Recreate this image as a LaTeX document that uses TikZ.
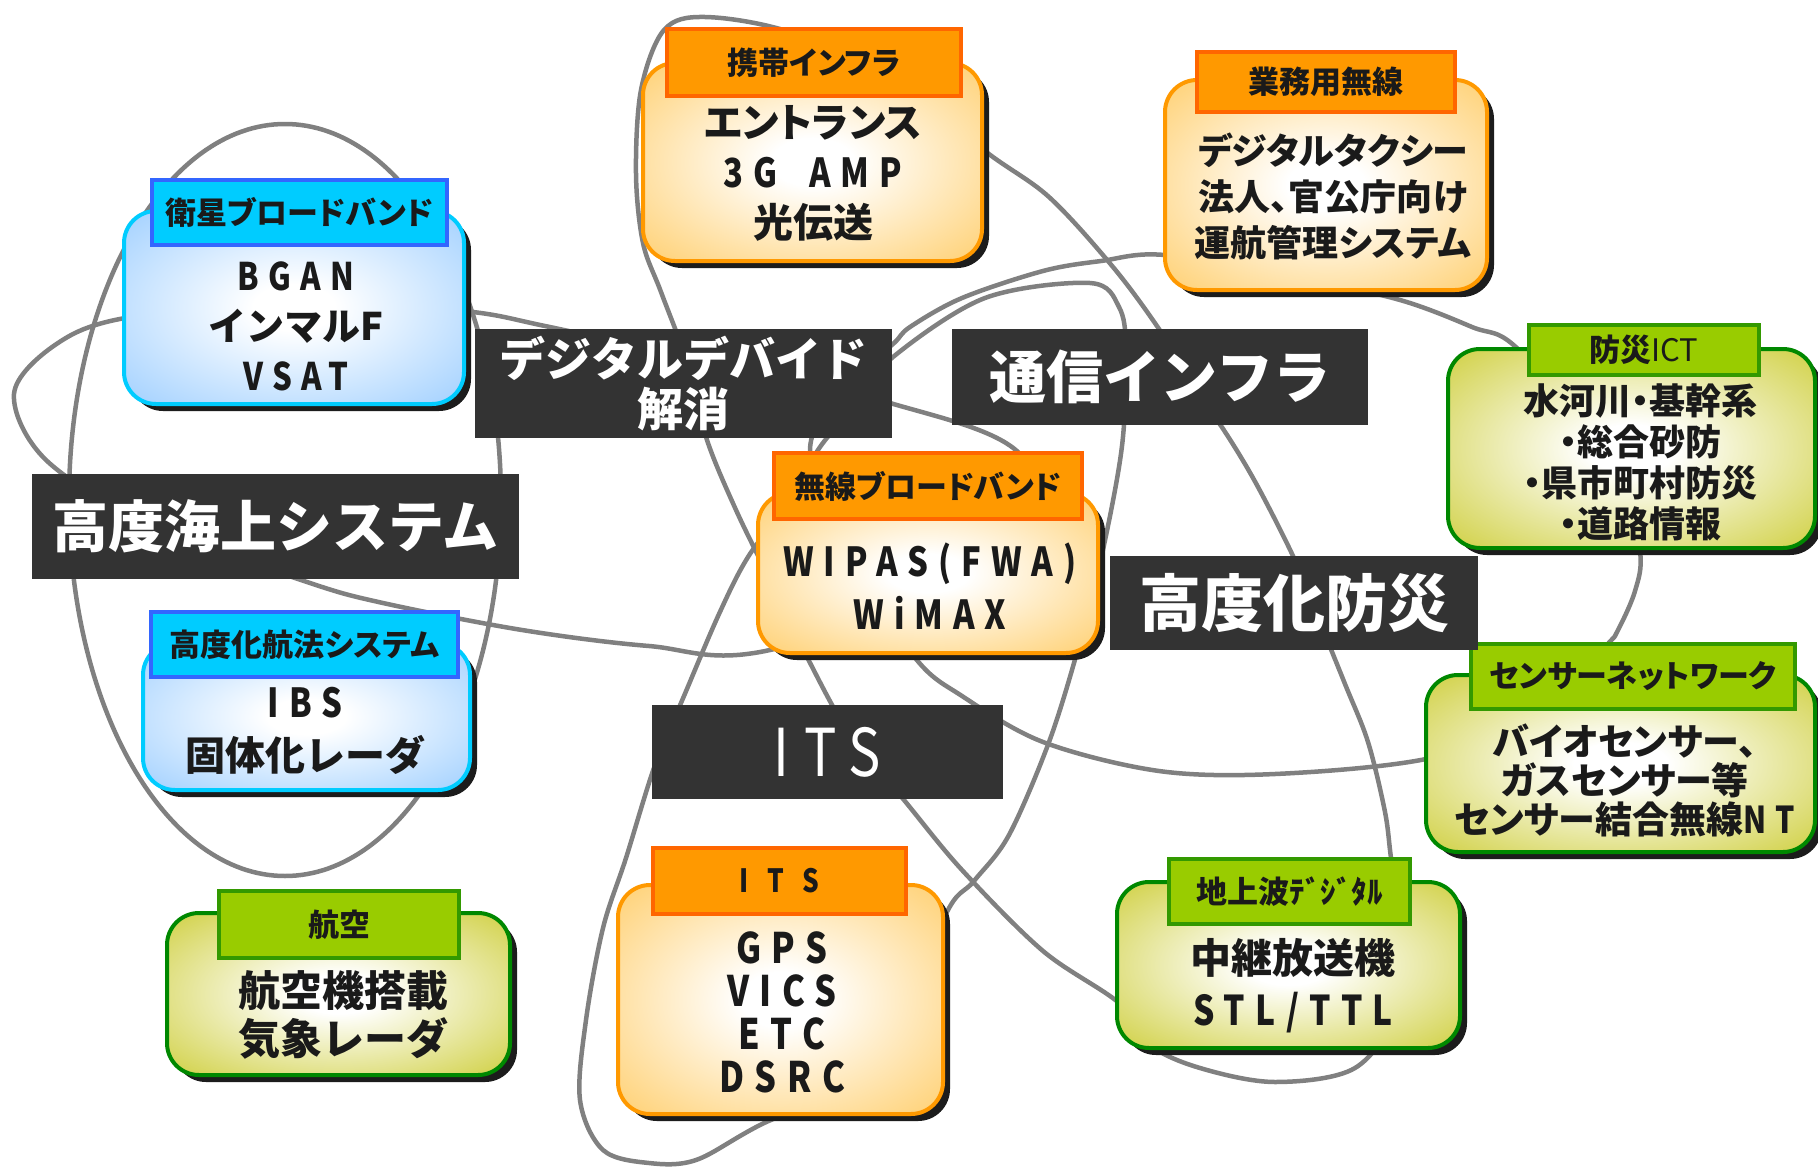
\documentclass[tikz,border=0pt]{standalone}
\usepackage{fontspec}
\usetikzlibrary{shadows}
\newfontfamily\jpfont[RawFeature={+palt}]{Noto Sans CJK JP}
\newfontfamily\jpnp{Noto Sans CJK JP}
\newfontfamily\jplat[FakeStretch=0.82,LetterSpace=25]{Noto Sans CJK JP}
\newfontfamily\jpwide[FakeStretch=0.82,LetterSpace=60]{Noto Sans CJK JP}
\newfontfamily\labfont{Noto Sans CJK JP}
\newfontfamily\labnarrow[FakeStretch=0.82,LetterSpace=22]{Noto Sans CJK JP}
\newcommand{\myfs}[2]{\fontsize{#1}{#2}\selectfont}
\definecolor{linegray}{HTML}{808080}
\definecolor{darklab}{HTML}{333333}
\definecolor{txt}{HTML}{1A1A1A}
\definecolor{shadowc}{HTML}{1C1C1C}
\definecolor{blueout}{HTML}{99CCFF}
\definecolor{bluebd}{HTML}{00CCFF}
\definecolor{bluehd}{HTML}{00CCFF}
\definecolor{bluehdbd}{HTML}{3366FF}
\definecolor{orgout}{HTML}{FFCC66}
\definecolor{orgbd}{HTML}{FF9900}
\definecolor{orghd}{HTML}{FF9900}
\definecolor{orghdbd}{HTML}{FF6600}
\definecolor{grnout}{HTML}{CCCC33}
\definecolor{grnbd}{HTML}{008800}
\definecolor{grnhd}{HTML}{99CC00}
\definecolor{grnhdbd}{HTML}{339900}
\pgfdeclareradialshading{blueshade}{\pgfpoint{0bp}{0bp}}{color(0bp)=(white); color(6bp)=(white); color(38bp)=(blueout); color(100bp)=(blueout)}
\pgfdeclareradialshading{orgshade}{\pgfpoint{0bp}{0bp}}{color(0bp)=(white); color(6bp)=(white); color(38bp)=(orgout); color(100bp)=(orgout)}
\pgfdeclareradialshading{grnshade}{\pgfpoint{0bp}{0bp}}{color(0bp)=(white); color(6bp)=(white); color(38bp)=(grnout); color(100bp)=(grnout)}
\tikzset{
  themeloop/.style={draw=linegray, line width=4.5pt},
  bodybox/.style={rectangle, rounded corners=32pt, line width=4pt, inner sep=0pt,
    drop shadow={shadow xshift=7pt, shadow yshift=-7pt, opacity=1, fill=shadowc}},
  bluebody/.style={bodybox, draw=bluebd, shade, shading=blueshade},
  orgbody/.style={bodybox, draw=orgbd, shade, shading=orgshade},
  grnbody/.style={bodybox, draw=grnbd, shade, shading=grnshade},
  hdr/.style={rectangle, line width=3.5pt, inner sep=0pt, text=txt,
    font=\jpfont\bfseries\myfs{31}{36}},
  bluehdr/.style={hdr, fill=bluehd, draw=bluehdbd},
  orghdr/.style={hdr, fill=orghd, draw=orghdbd},
  grnhdr/.style={hdr, fill=grnhd, draw=grnhdbd},
  bodytxt/.style={inner sep=0pt, align=center, text=txt},
  lab/.style={rectangle, fill=darklab, inner sep=0pt, text=white, align=center}
}
\begin{document}
\begin{tikzpicture}[x=1pt,y=-1pt]
\useasboundingbox (0,0) rectangle (1818,1167);
\fill[white] (0,0) rectangle (1818,1167);

% theme loops
\draw[themeloop] (285,500) ellipse [x radius=216pt, y radius=376pt];
\draw[themeloop] plot[smooth cycle, tension=0.55] coordinates {
 (14,394) (46,460) (150,525) (307,582) (383,603) (522,630) (649,646) (770,650)
 (1040,560) (1020,454) (890,403) (700,360) (545,326) (464,311) (300,300) (125,318) (55,345)};
\draw[themeloop] plot[smooth cycle, tension=0.55] coordinates {
 (705,17) (664,30) (641,90) (636,174) (643,243) (661,292) (690,370) (707,440) (736,510)
 (770,580) (806,655) (850,735) (904,800) (962,870) (1043,951) (1119,1003) (1150,1045)
 (1200,1068) (1275,1082) (1355,1068) (1395,1010) (1400,920) (1391,858) (1385,812)
 (1368,742) (1345,684) (1315,610) (1293,556) (1258,487) (1229,438) (1190,380) (1159,329)
 (1113,267) (1049,197) (985,151) (900,80) (790,32)};
\draw[themeloop] plot[smooth cycle, tension=0.55] coordinates {
 (893,357) (985,298) (1090,283) (1119,307) (1126,350) (1122,446) (1101,559) (1078,649)
 (1049,742) (1009,835) (974,881) (945,916) (890,1060) (760,1125) (696,1160) (649,1163)
 (603,1150) (580,1100) (586,1020) (603,928) (626,858) (655,765) (684,696) (719,614)
 (748,557) (790,500) (820,447) (860,400)};
\draw[themeloop] plot[smooth cycle, tension=0.55] coordinates {
 (1165,255) (1300,278) (1400,300) (1472,327) (1519,350) (1620,470) (1640,551) (1635,591)
 (1617,632) (1606,646) (1540,720) (1426,759) (1275,774) (1159,771) (1043,742) (962,696)
 (916,659) (850,560) (810,450) (850,380) (893,344) (910,327) (962,298) (1043,271) (1101,261)};

% 衛星ブロードバンド
\node[bluebody, minimum width=340pt, minimum height=193pt] (eisei) at (294,307.5) {};
\node[bluehdr, minimum width=295pt, minimum height=65pt] (eisei-h) at (299.5,212.5) {衛星ブロードバンド};
\node[bodytxt, font=\bfseries\myfs{38}{50}] (eisei-t) at (296,326) {{\jplat BGAN}\\{\jpnp インマルF}\\{\jplat VSAT}};

% 高度化航法システム
\node[bluebody, minimum width=327pt, minimum height=147pt] (kouhou) at (306.5,716.5) {};
\node[bluehdr, minimum width=307pt, minimum height=65pt] (kouhou-h) at (304.5,644.5) {高度化航法システム};
\node[bodytxt, font=\bfseries\myfs{40}{53}] (kouhou-t) at (305,731) {{\jplat IBS}\\{\jpnp 固体化レーダ}};

% 航空
\node[grnbody, minimum width=343pt, minimum height=162pt] (koukuu) at (338.5,994) {};
\node[grnhdr, minimum width=240pt, minimum height=67pt] (koukuu-h) at (339,924.5) {航空};
\node[bodytxt, font=\jpnp\bfseries\myfs{42}{48}] (koukuu-t) at (343,1015) {航空機搭載\\気象レーダ};

% 携帯インフラ
\node[orgbody, minimum width=339pt, minimum height=198pt] (keitai) at (812.5,162) {};
\node[orghdr, minimum width=294pt, minimum height=67pt] (keitai-h) at (814,62.5) {携帯インフラ};
\node[bodytxt, font=\jpfont\bfseries\myfs{40}{50}] (keitai-t) at (813,173) {エントランス\\{\jplat 3G\hspace{14pt} AMP}\\光伝送};

% 業務用無線
\node[orgbody, minimum width=322pt, minimum height=210pt] (gyomu) at (1326,185) {};
\node[orghdr, minimum width=258pt, minimum height=60pt] (gyomu-h) at (1326,82) {業務用無線};
\node[bodytxt, font=\jpfont\bfseries\myfs{36}{46}] (gyomu-t) at (1333,196) {デジタルタクシー\\法人、官公庁向け\\運航管理システム};

% 無線ブロードバンド
\node[orgbody, minimum width=340pt, minimum height=160pt] (musen) at (928,573) {};
\node[orghdr, minimum width=308pt, minimum height=66pt] (musen-h) at (928,486) {無線ブロードバンド};
\node[bodytxt, font=\jplat\bfseries\myfs{40}{53}] (musen-t) at (930,586) {WIPAS(FWA)\\WiMAX};

% ITS
\node[orgbody, minimum width=325pt, minimum height=229pt] (itsb) at (780.5,999.5) {};
\node[orghdr, minimum width=253pt, minimum height=66pt, font=\jpwide\bfseries\myfs{32}{36}] (itsb-h) at (779.5,881) {ITS};
\node[bodytxt, font=\jplat\bfseries\myfs{42}{43}] (itsb-t) at (782,1012) {GPS\\VICS\\ETC\\DSRC};

% 防災ICT
\node[grnbody, minimum width=367pt, minimum height=199pt] (bict) at (1631.5,448.5) {};
\node[grnhdr, minimum width=230pt, minimum height=50pt] (bict-h) at (1644,350) {防災{\mdseries ICT}};
\node[bodytxt, font=\jpfont\bfseries\myfs{36}{41}] (bict-t) at (1640,462.5) {水河川・基幹系\\・総合砂防\\・県市町村防災\\・道路情報};

% センサーネットワーク
\node[grnbody, minimum width=389pt, minimum height=177pt] (sensor) at (1620.5,763.5) {};
\node[grnhdr, minimum width=324pt, minimum height=65pt] (sensor-h) at (1633,676.5) {センサーネットワーク};
\node[bodytxt, font=\jpfont\bfseries\myfs{37}{39}] (sensor-t) at (1625,780) {バイオセンサー、\\ガスセンサー等\\センサー結合無線{\jplat NT}};

% 地上波デジタル
\node[grnbody, minimum width=343pt, minimum height=166pt] (chijou) at (1288.5,965) {};
\node[grnhdr, minimum width=241pt, minimum height=65pt] (chijou-h) at (1289.5,891.5) {地上波ﾃﾞｼﾞﾀﾙ};
\node[bodytxt, font=\bfseries\myfs{41}{52}] (chijou-t) at (1293,986) {{\jpnp 中継放送機}\\{\jplat STL/TTL}};

% theme labels
\node[lab, minimum width=417pt, minimum height=109pt, font=\labfont\bfseries\myfs{46}{50}] (dd) at (683.5,383.5) {デジタルデバイド\\解消};
\node[lab, minimum width=416pt, minimum height=96pt, font=\labfont\bfseries\myfs{57}{60}] (tsushin) at (1160,377) {通信インフラ};
\node[lab, minimum width=487pt, minimum height=105pt, font=\labfont\bfseries\myfs{56}{60}] (kaijo) at (275.5,526.5) {高度海上システム};
\node[lab, minimum width=368pt, minimum height=94pt, font=\labfont\bfseries\myfs{62}{66}] (bousai) at (1294,603) {高度化防災};
\node[lab, minimum width=351pt, minimum height=94pt, font=\labnarrow\myfs{66}{70}] (itslab) at (827.5,752) {ITS};
\end{tikzpicture}
\end{document}
